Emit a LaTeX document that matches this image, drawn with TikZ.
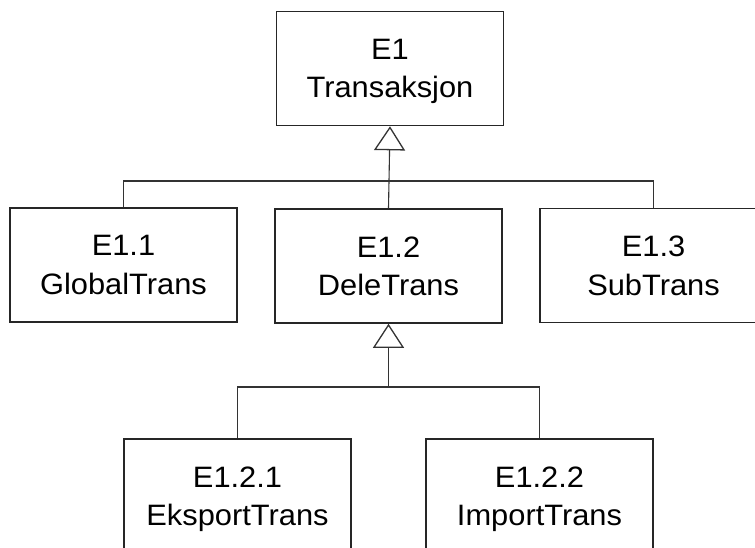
\documentclass[tikz,border=0pt]{standalone}
\usepackage{fontspec}
\setmainfont{Liberation Sans}[FakeStretch=1.045]
\usetikzlibrary{arrows.meta}

\tikzset{
  entity/.style={draw=black!85, line width=1.6pt, rectangle,
    minimum width=227pt, minimum height=114pt, inner sep=0pt,
    align=center, text depth=0pt, font=\fontsize{29.5pt}{38.5pt}\selectfont},
  conn/.style={draw=black!80, line width=1.1pt},
  inherit/.style={conn, -{Triangle[open, length=24pt, width=31pt, line width=1.3pt]}}
}

\begin{document}
\begin{tikzpicture}[x=1pt, y=-1pt]
  \useasboundingbox (0,0) rectangle (755,547);
  \clip (0,0) rectangle (755,547);

  % entities
  \node[entity] (e1)   at (390,68.5)  {E1\\Transaksjon};
  \node[entity] (glob) at (123.5,265) {E1.1\\GlobalTrans};
  \node[entity] (dele) at (388.5,266) {E1.2\\DeleTrans};
  \node[entity] (sub)  at (653.5,265.5) {E1.3\\SubTrans};
  \node[entity] (eks)  at (237.5,496) {E1.2.1\\EksportTrans};
  \node[entity] (imp)  at (539.5,496) {E1.2.2\\ImportTrans};

  % junction levels of the two generalisation trees
  \coordinate (bar1) at (0,181);
  \coordinate (bar2) at (0,387);

  % first level: E1.1, E1.2, E1.3 specialise E1
  \draw[conn] (glob.north) |- (bar1 -| sub.north) -- (sub.north);
  \draw[inherit] (dele.north) -- (e1.south);

  % second level: E1.2.1, E1.2.2 specialise E1.2
  \draw[conn] (eks.north) |- (bar2 -| imp.north) -- (imp.north);
  \draw[inherit] (bar2 -| dele.south) -- (dele.south);
\end{tikzpicture}
\end{document}
